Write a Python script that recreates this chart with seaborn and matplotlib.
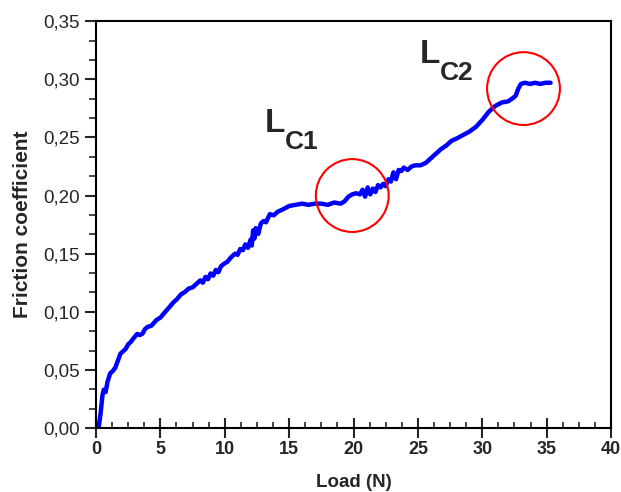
import numpy as np
import pandas as pd
import matplotlib
matplotlib.use("Agg")
import matplotlib.pyplot as plt
from matplotlib.ticker import MultipleLocator, AutoMinorLocator, FuncFormatter
import seaborn as sns

# Scratch test: friction coefficient vs. applied load
load = [0.2, 0.35, 0.5, 0.6, 0.75, 0.9, 1.1, 1.3, 1.5, 1.7, 1.9, 2.1, 2.3, 2.5, 2.7,
        2.9, 3.2, 3.4, 3.6, 3.8, 4.0, 4.3, 4.7, 5.0, 5.3, 5.7, 6.0, 6.3, 6.6, 6.9,
        7.2, 7.5, 7.8, 8.1, 8.3, 8.5, 8.7, 8.9, 9.1, 9.3, 9.5, 9.7, 9.9, 10.2, 10.5,
        10.8, 11.0, 11.2, 11.4, 11.6, 11.8, 12.0, 12.1, 12.2, 12.3, 12.4, 12.6, 12.8,
        13.0, 13.2, 13.5, 13.8, 14.1, 14.5, 15.0, 15.5, 16.0, 16.5, 17.0, 17.5, 18.0,
        18.5, 19.0, 19.3, 19.6, 19.9, 20.2, 20.5, 20.7, 20.9, 21.1, 21.3, 21.5, 21.7,
        21.9, 22.1, 22.3, 22.5, 22.7, 22.9, 23.1, 23.3, 23.5, 23.7, 23.9, 24.2, 24.5,
        24.8, 25.2, 25.6, 26.0, 26.4, 26.8, 27.2, 27.6, 28.0, 28.5, 29.0, 29.5, 30.0,
        30.5, 31.0, 31.5, 32.0, 32.4, 32.6, 32.8, 33.0, 33.3, 33.7, 34.1, 34.5, 34.9,
        35.3]
friction = [0.000, 0.012, 0.028, 0.033, 0.031, 0.040, 0.047, 0.049, 0.052, 0.058,
            0.064, 0.066, 0.068, 0.072, 0.074, 0.077, 0.081, 0.080, 0.081, 0.085,
            0.087, 0.088, 0.093, 0.095, 0.099, 0.104, 0.108, 0.111, 0.115, 0.117,
            0.120, 0.121, 0.124, 0.127, 0.125, 0.130, 0.128, 0.133, 0.131, 0.136,
            0.134, 0.139, 0.141, 0.143, 0.147, 0.150, 0.149, 0.154, 0.153, 0.158,
            0.155, 0.162, 0.157, 0.170, 0.163, 0.172, 0.167, 0.176, 0.178, 0.177,
            0.184, 0.183, 0.186, 0.188, 0.191, 0.192, 0.193, 0.192, 0.193, 0.193,
            0.192, 0.194, 0.193, 0.195, 0.199, 0.201, 0.202, 0.201, 0.205, 0.199,
            0.207, 0.201, 0.206, 0.203, 0.209, 0.207, 0.210, 0.208, 0.214, 0.212,
            0.220, 0.214, 0.222, 0.221, 0.224, 0.222, 0.225, 0.226, 0.226, 0.228,
            0.232, 0.236, 0.240, 0.243, 0.247, 0.249, 0.252, 0.255, 0.259, 0.265,
            0.272, 0.277, 0.280, 0.281, 0.284, 0.286, 0.292, 0.296, 0.297, 0.296,
            0.297, 0.296, 0.297, 0.297]

# critical loads (circled points) and their labels
crit_load = [19.9, 33.2]
crit_mu = [0.200, 0.292]
crit_sub = ["C1", "C2"]
label_pos = [(13.13, 0.2545), (25.16, 0.3139)]

df = pd.DataFrame({"Load": load, "Friction": friction})
crit = pd.DataFrame({"Load": crit_load, "Friction": crit_mu})

sns.set_style("ticks")
plt.rcParams["font.family"] = ["Liberation Sans", "DejaVu Sans"]

fig = plt.figure(figsize=(6.21, 4.92), dpi=100)
ax = fig.add_axes([0.1546, 0.130, 0.8294, 0.827])

sns.lineplot(data=df, x="Load", y="Friction", color="#0000ff", lw=3.2, ax=ax,
             sort=False)
sns.scatterplot(data=crit, x="Load", y="Friction", s=2750, marker="o",
                facecolor="none", edgecolor="red", linewidth=1.5, ax=ax, zorder=3)

# "L" with a big subscript, like the original figure
for sub, (x, y) in zip(crit_sub, label_pos):
    ax.text(x, y, "L", fontsize=24, fontweight="bold", ha="left", va="baseline")
    ax.annotate(sub, xy=(x, y), xytext=(14.4, -12), textcoords="offset points",
                fontsize=19, fontweight="bold", ha="left", va="baseline")

ax.set_xlim(0, 40)
ax.set_ylim(0, 0.35)
ax.xaxis.set_major_locator(MultipleLocator(5))
ax.xaxis.set_minor_locator(AutoMinorLocator(4))
ax.yaxis.set_major_locator(MultipleLocator(0.05))
ax.yaxis.set_minor_locator(AutoMinorLocator(3))
ax.yaxis.set_major_formatter(FuncFormatter(lambda v, p: f"{v:.2f}".replace(".", ",")))

for s in ax.spines.values():
    s.set_linewidth(1.5)
    s.set_color("black")

ax.tick_params(axis="x", which="major", direction="inout", length=14, width=1.5,
               labelsize=13, pad=2)
ax.tick_params(axis="x", which="minor", direction="in", length=4, width=1.2)
ax.tick_params(axis="y", which="major", direction="out", length=8, width=1.5,
               labelsize=13.5)
ax.tick_params(axis="y", which="minor", direction="out", length=5, width=1.2)
for lab in ax.get_xticklabels():
    lab.set_fontweight("bold")

ax.set_xlabel("Load (N)", fontsize=13.5, fontweight="bold", labelpad=12)
ax.set_ylabel("Friction coefficient", fontsize=15, fontweight="bold", labelpad=8)

fig.savefig("out.png", dpi=100)
